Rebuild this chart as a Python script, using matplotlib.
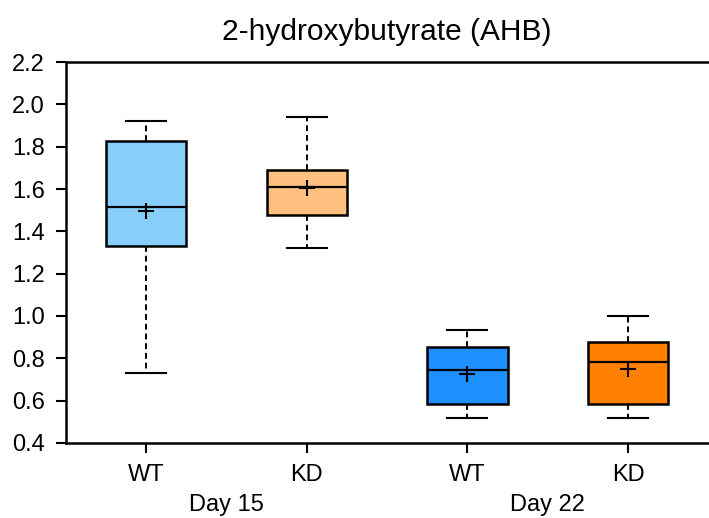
import matplotlib
matplotlib.use("Agg")
import matplotlib.pyplot as plt

plt.rcParams['font.family'] = ['Liberation Sans', 'DejaVu Sans']

labels = ["WT", "KD", "WT", "KD"]
groups = ["Day 15", "Day 22"]
whislo = [0.731, 1.321, 0.517, 0.517]
q1 = [1.331, 1.477, 0.584, 0.584]
med = [1.515, 1.610, 0.745, 0.783]
q3 = [1.827, 1.690, 0.852, 0.877]
whishi = [1.921, 1.940, 0.934, 1.000]
means = [1.496, 1.605, 0.726, 0.751]
colors = ["#87CEFA", "#FFC080", "#1E90FF", "#FF8000"]

stats = []
for i in range(4):
    stats.append(dict(label=labels[i], whislo=whislo[i], q1=q1[i], med=med[i],
                      q3=q3[i], whishi=whishi[i], mean=means[i], fliers=[]))

fig = plt.figure(figsize=(7.09, 5.18), dpi=100)
ax = fig.add_axes([0.093, 0.145, 0.906, 0.735])
positions = [1, 2, 3, 4]
bp = ax.bxp(stats, positions=positions, widths=0.5, capwidths=0.25,
            showmeans=True, patch_artist=True,
            boxprops=dict(linewidth=1.8, edgecolor='black'),
            medianprops=dict(color='black', linewidth=1.6),
            whiskerprops=dict(color='black', linewidth=1.4, linestyle=(0, (3, 2))),
            capprops=dict(color='black', linewidth=1.5),
            meanprops=dict(marker='+', markersize=12, markeredgecolor='black',
                           markeredgewidth=1.5))
for patch, c in zip(bp['boxes'], colors):
    patch.set_facecolor(c)

ax.set_xlim(0.5, 4.5)
ax.set_ylim(0.4, 2.2)
ax.set_yticks([0.4 + 0.2 * i for i in range(10)])
ax.set_yticklabels([f"{0.4 + 0.2 * i:.1f}" for i in range(10)])
ax.set_xticks(positions)
ax.set_xticklabels(labels)
ax.tick_params(axis='both', direction='out', length=7, width=1.5, labelsize=17)
ax.tick_params(axis='y', pad=8)
ax.tick_params(axis='x', pad=8)
for s in ['left', 'bottom', 'top']:
    ax.spines[s].set_linewidth(1.8)
ax.spines['right'].set_visible(False)

for gi, g in enumerate(groups):
    xc = (positions[2 * gi] + positions[2 * gi + 1]) / 2
    ax.text(xc, -0.163, g, transform=ax.get_xaxis_transform(), ha='center', va='center',
            fontsize=17)

ax.set_title("2-hydroxybutyrate (AHB)", fontsize=21.5, pad=16)

fig.savefig("out.png", dpi=100)
